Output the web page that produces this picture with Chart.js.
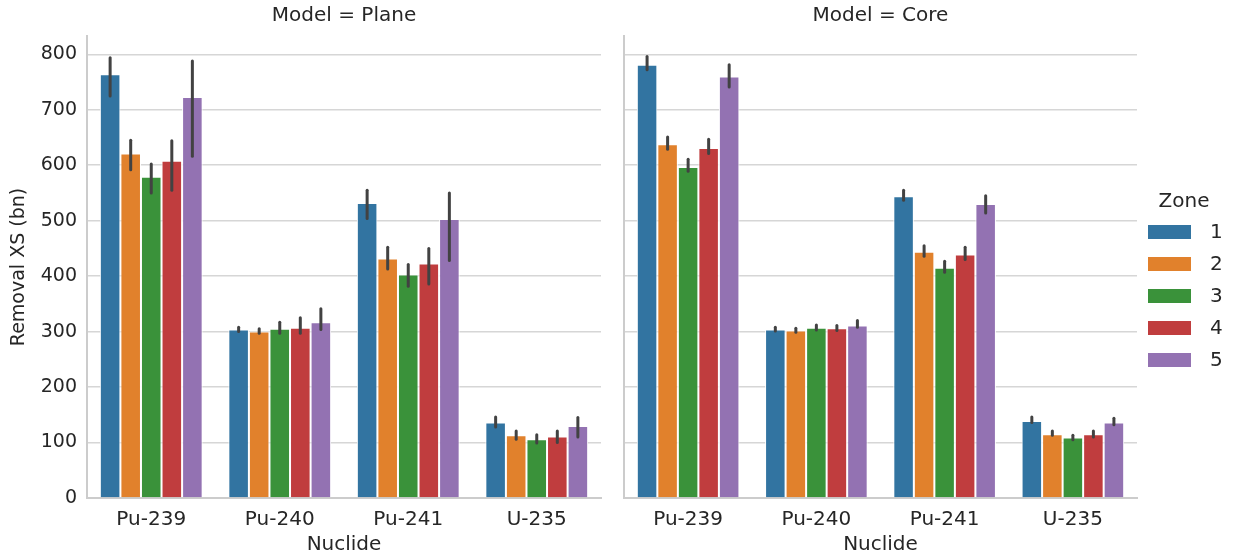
<!DOCTYPE html>
<html>
<head>
<meta charset="utf-8">
<script src="https://cdn.jsdelivr.net/npm/chart.js@4/dist/chart.umd.min.js"></script>
<style>
  body { margin: 0; background: #fff; }
  #wrap { position: relative; width: 1233px; height: 559px; }
  canvas { position: absolute; top: 0; }
</style>
</head>
<body>
<div id="wrap">
  <canvas id="panelPlane" width="612" height="559" style="left:0px"></canvas>
  <canvas id="panelCore" width="621" height="559" style="left:612px"></canvas>
</div>
<script>
// data: bar = mean, errLow/errHigh = ends of the black CI line
const nuclides = ["Pu-239", "Pu-240", "Pu-241", "U-235"];
const zones = ["1", "2", "3", "4", "5"];
const zoneColors = ["#3274a1", "#e1812c", "#3a923a", "#c03d3e", "#9372b2"];
const yTicks = [0, 100, 200, 300, 400, 500, 600, 700, 800];

// one row per zone, columns follow nuclides
const planeMean = [
  [764, 304, 532, 136],
  [621, 300, 432, 113],
  [579, 305, 403, 106],
  [608, 307, 423, 111],
  [723, 317, 503, 130]
];
const planeLow = [
  [725, 300, 504, 128],
  [592, 297, 413, 106],
  [550, 297, 382, 99],
  [555, 297, 386, 100],
  [616, 304, 428, 110]
];
const planeHigh = [
  [794, 308, 555, 146],
  [645, 305, 452, 121],
  [602, 317, 421, 114],
  [644, 325, 450, 121],
  [788, 341, 550, 145]
];

const coreMean = [
  [781, 304, 544, 139],
  [638, 302, 444, 115],
  [597, 307, 415, 109],
  [631, 306, 439, 115],
  [760, 311, 530, 136]
];
const coreLow = [
  [772, 301, 537, 136],
  [629, 299, 436, 113],
  [589, 303, 407, 105],
  [621, 302, 430, 110],
  [741, 308, 514, 132]
];
const coreHigh = [
  [796, 308, 555, 146],
  [651, 306, 455, 121],
  [611, 312, 427, 113],
  [647, 311, 452, 121],
  [781, 320, 545, 144]
];

const font = { family: "DejaVu Sans", size: 19 };
const textColor = "#262626";
Chart.defaults.font.family = font.family;
Chart.defaults.font.size = font.size;
Chart.defaults.color = textColor;

function makeSets(means, lows, highs) {
  return zones.map((z, i) => ({
    label: z,
    data: means[i],
    errLow: lows[i],
    errHigh: highs[i],
    backgroundColor: zoneColors[i],
    borderColor: "#ffffff",
    borderWidth: 1,
    borderSkipped: "start",
    categoryPercentage: 0.8,
    barPercentage: 1.0
  }));
}

// black confidence lines on top of each bar
const errorBars = {
  id: "errorBars",
  afterDatasetsDraw(chart) {
    const ctx = chart.ctx;
    const y = chart.scales.y;
    ctx.save();
    ctx.strokeStyle = "#424242";
    ctx.lineWidth = 3;
    ctx.lineCap = "round";
    chart.data.datasets.forEach((ds, i) => {
      chart.getDatasetMeta(i).data.forEach((bar, j) => {
        ctx.beginPath();
        ctx.moveTo(bar.x, y.getPixelForValue(ds.errLow[j]));
        ctx.lineTo(bar.x, y.getPixelForValue(ds.errHigh[j]));
        ctx.stroke();
      });
    });
    ctx.restore();
  }
};

// facet title centred over the plot area
function facetTitle(text) {
  return {
    id: "facetTitle",
    afterDraw(chart) {
      const ctx = chart.ctx;
      const a = chart.chartArea;
      ctx.save();
      ctx.font = "20px " + font.family;
      ctx.fillStyle = textColor;
      ctx.textAlign = "center";
      ctx.textBaseline = "middle";
      ctx.fillText(text, (a.left + a.right) / 2, 16);
      ctx.restore();
    }
  };
}

// seaborn style legend at the right side
const zoneLegend = {
  id: "zoneLegend",
  afterDraw(chart) {
    const ctx = chart.ctx;
    const a = chart.chartArea;
    const boxX = a.right + 11;
    ctx.save();
    ctx.font = "20px " + font.family;
    ctx.fillStyle = textColor;
    ctx.textBaseline = "middle";
    ctx.textAlign = "center";
    ctx.fillText("Zone", boxX + 36, 202);
    ctx.textAlign = "left";
    chart.data.datasets.forEach((ds, i) => {
      const cy = 232 + i * 32;
      ctx.fillStyle = ds.backgroundColor;
      ctx.fillRect(boxX, cy - 7, 43, 14);
      ctx.fillStyle = textColor;
      ctx.fillText(ds.label, boxX + 62, cy + 1);
    });
    ctx.restore();
  }
};

function panelOptions(showYLabels, padLeft, padRight) {
  return {
    responsive: false,
    animation: false,
    layout: { padding: { top: 36, left: padLeft, right: padRight, bottom: 0 } },
    plugins: { legend: { display: false }, tooltip: { enabled: false } },
    scales: {
      x: {
        type: "category",
        grid: { display: false, drawTicks: false },
        border: { display: true, color: "#cccccc", width: 2 },
        ticks: { padding: 10, color: textColor, font: { size: 20 } },
        title: { display: true, text: "Nuclide", color: textColor, font: { size: 20 }, padding: { top: 4, bottom: 2 } },
        afterFit(scale) { scale.height = 61; }
      },
      y: {
        min: 0,
        max: 833,
        grid: { color: "#d6d6d6", lineWidth: 1.5, drawTicks: false },
        border: { display: true, color: "#cccccc", width: 2 },
        ticks: { display: showYLabels, padding: 10, color: textColor },
        title: { display: showYLabels, text: "Removal XS (bn)", color: textColor, padding: { top: 8, bottom: 4 } },
        afterBuildTicks(scale) { scale.ticks = yTicks.map(v => ({ value: v })); },
        afterFit(scale) { scale.width = showYLabels ? 87 : 0; }
      }
    }
  };
}

new Chart("panelPlane", {
  type: "bar",
  data: { labels: nuclides, datasets: makeSets(planeMean, planeLow, planeHigh) },
  options: panelOptions(true, 0, 11),
  plugins: [errorBars, facetTitle("Model = Plane")]
});

new Chart("panelCore", {
  type: "bar",
  data: { labels: nuclides, datasets: makeSets(coreMean, coreLow, coreHigh) },
  options: panelOptions(false, 12, 96),
  plugins: [errorBars, facetTitle("Model = Core"), zoneLegend]
});
</script>
</body>
</html>
